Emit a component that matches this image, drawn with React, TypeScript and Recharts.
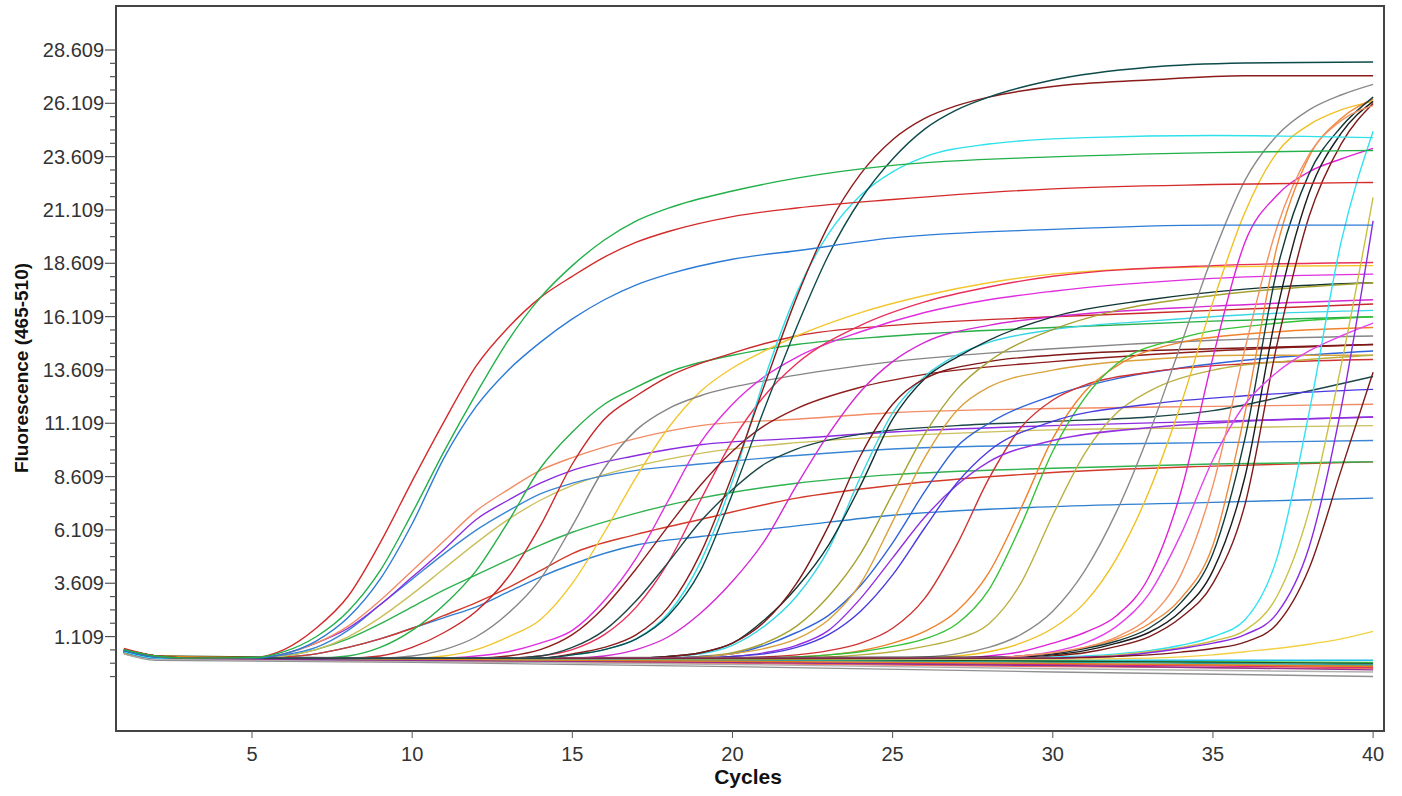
import { LineChart, Line, XAxis, YAxis, ReferenceArea } from "recharts";

type P = [number, number];

const cycleTicks = [5, 10, 15, 20, 25, 30, 35, 40];
const fluorTicks = [1.109, 3.609, 6.109, 8.609, 11.109, 13.609, 16.109, 18.609, 21.109, 23.609, 26.109, 28.609];

// early samples, high plateau
const s01: P[] = [[1,0.5],[2,0.2],[3,0.1],[5,0.12],[6,0.4],[7,1.1],[8,2.3],[9,4.2],[10,6.9],[11,9.8],[12,12.5],[13,15.0],[14,17.0],[15,18.5],[16,19.7],[17,20.6],[18,21.2],[20,22.0],[22,22.6],[25,23.2],[30,23.6],[35,23.8],[40,23.9]];
const s02: P[] = [[1,0.55],[2,0.2],[3,0.1],[5,0.12],[6,0.5],[7,1.5],[8,3.0],[9,5.5],[10,8.4],[11,11.2],[12,13.8],[13,15.6],[14,17.0],[15,18.0],[16,18.9],[17,19.6],[18,20.1],[20,20.8],[22,21.2],[25,21.6],[30,22.1],[35,22.3],[40,22.4]];
const s03: P[] = [[1,0.45],[2,0.15],[3,0.1],[5,0.1],[6,0.3],[7,0.9],[8,2.0],[9,3.8],[10,6.4],[11,9.5],[12,11.9],[13,13.6],[14,14.9],[15,16.0],[16,16.9],[17,17.6],[18,18.1],[20,18.8],[22,19.2],[25,19.8],[30,20.2],[35,20.4],[40,20.4]];
// early samples, low plateau
const s04: P[] = [[1,0.45],[2,0.15],[3,0.1],[5,0.1],[6,0.3],[7,0.8],[8,1.6],[9,2.8],[10,4.2],[11,5.6],[12,7.0],[13,8.0],[14,8.9],[15,9.5],[17,10.4],[19,11.0],[22,11.3],[25,11.6],[30,11.8],[35,11.9],[40,12.0]];
const s05: P[] = [[1,0.4],[2,0.15],[3,0.1],[5,0.1],[6,0.3],[7,0.8],[8,1.5],[9,2.6],[10,3.9],[11,5.2],[12,6.6],[13,7.5],[14,8.3],[15,8.9],[17,9.6],[19,10.1],[22,10.4],[25,10.7],[30,11.0],[35,11.2],[40,11.4]];
const s06: P[] = [[1,0.4],[2,0.1],[3,0.1],[5,0.1],[6,0.25],[7,0.6],[8,1.4],[9,2.6],[10,3.8],[11,5.0],[12,6.1],[13,7.0],[14,7.8],[15,8.3],[17,8.9],[19,9.2],[22,9.6],[25,9.9],[30,10.1],[35,10.2],[40,10.3]];
const s07: P[] = [[1,0.35],[2,0.1],[3,0.1],[5,0.1],[6,0.2],[7,0.5],[8,1.1],[9,2.0],[10,3.1],[11,4.3],[12,5.5],[13,6.6],[14,7.5],[15,8.2],[17,9.1],[19,9.7],[22,10.2],[25,10.5],[30,10.8],[35,10.9],[40,11.0]];
const s08: P[] = [[1,0.4],[2,0.15],[3,0.1],[5,0.1],[6,0.2],[7,0.5],[8,1.0],[9,1.7],[10,2.5],[11,3.3],[12,4.0],[13,4.7],[14,5.4],[15,6.0],[17,6.9],[19,7.6],[22,8.3],[25,8.7],[30,9.0],[35,9.2],[40,9.3]];
const s09: P[] = [[1,0.5],[2,0.2],[3,0.1],[5,0.1],[6,0.15],[7,0.3],[8,0.6],[9,1.0],[10,1.5],[11,2.1],[12,2.7],[13,3.4],[14,4.2],[15,5.0],[17,5.9],[19,6.6],[22,7.6],[25,8.2],[30,8.8],[35,9.1],[40,9.3]];
const s10: P[] = [[1,0.4],[2,0.1],[3,0.1],[5,0.1],[6,0.15],[7,0.3],[8,0.6],[9,1.0],[10,1.5],[11,2.0],[12,2.5],[13,3.2],[14,3.9],[15,4.5],[17,5.4],[19,5.8],[22,6.3],[25,6.8],[30,7.2],[35,7.4],[40,7.6]];
// mid samples
const s11: P[] = [[1,0.4],[2,0.15],[3,0.1],[7,0.1],[8,0.2],[9,0.6],[10,1.4],[11,2.6],[12,4.2],[13,6.5],[14,9.0],[15,10.7],[16,12.0],[17,12.8],[18,13.5],[20,14.3],[22,14.8],[25,15.2],[30,15.6],[35,15.9],[40,16.1]];
const s12: P[] = [[1,0.5],[2,0.2],[3,0.1],[8,0.1],[9,0.2],[10,0.6],[11,1.3],[12,2.3],[13,3.9],[14,6.3],[15,9.2],[16,11.3],[17,12.4],[18,13.3],[20,14.4],[22,15.2],[25,15.7],[30,16.1],[35,16.4],[40,16.7]];
const s13: P[] = [[1,0.4],[2,0.1],[3,0.1],[10,0.1],[11,0.2],[12,0.5],[13,1.1],[14,1.9],[15,3.6],[16,6.0],[17,8.6],[18,10.9],[19,12.6],[20,13.7],[21,14.5],[22,15.2],[24,16.3],[26,17.1],[28,17.7],[30,18.1],[35,18.45],[40,18.5]];
const s14: P[] = [[1,0.35],[2,0.1],[3,0.1],[9,0.1],[10,0.2],[11,0.5],[12,1.1],[13,2.2],[14,3.8],[15,6.3],[16,9.0],[17,10.8],[18,11.8],[19,12.4],[21,13.1],[23,13.6],[25,14.0],[30,14.6],[35,15.0],[40,15.2]];
const s15: P[] = [[1,0.4],[2,0.15],[3,0.1],[11,0.1],[12,0.2],[13,0.4],[14,0.8],[15,1.4],[16,2.8],[17,4.8],[18,7.5],[19,10.2],[20,12.0],[21,13.3],[22,14.2],[24,15.4],[26,16.3],[28,16.9],[30,17.3],[35,17.9],[40,18.1]];
const s16: P[] = [[1,0.45],[2,0.15],[3,0.1],[13,0.1],[14,0.2],[15,0.5],[16,1.2],[17,2.5],[18,4.6],[19,7.5],[20,10.3],[21,12.4],[22,13.9],[24,15.7],[26,16.8],[28,17.5],[30,18.0],[35,18.5],[40,18.65]];
const s17: P[] = [[1,0.5],[2,0.2],[3,0.1],[12,0.1],[13,0.2],[14,0.5],[15,1.2],[16,2.5],[17,4.3],[18,6.3],[19,8.2],[20,9.8],[21,11.0],[22,11.8],[24,12.8],[26,13.4],[30,14.0],[35,14.5],[40,14.8]];
const s18: P[] = [[1,0.4],[2,0.1],[3,0.1],[13,0.1],[14,0.2],[15,0.6],[16,1.4],[17,2.8],[18,4.6],[19,6.5],[20,8.0],[21,9.2],[22,9.9],[24,10.6],[27,11.0],[30,11.2],[33,11.4],[35,11.7],[37,12.3],[40,13.3]];
// steep, highest plateau
const s19: P[] = [[1,0.45],[2,0.15],[3,0.1],[14,0.1],[15,0.25],[16,0.5],[17,1.0],[18,2.1],[19,4.2],[20,7.8],[21,11.8],[22,15.6],[23,19.0],[24,21.6],[25,23.5],[26,24.9],[27,25.8],[28,26.4],[30,27.2],[33,27.8],[36,28.0],[40,28.05]];
const s20: P[] = [[1,0.5],[2,0.2],[3,0.1],[14,0.1],[15,0.3],[16,0.6],[17,1.2],[18,2.5],[19,5.0],[20,8.7],[21,12.9],[22,17.0],[23,20.4],[24,22.8],[25,24.4],[26,25.4],[27,26.0],[28,26.4],[30,26.9],[33,27.2],[36,27.4],[40,27.4]];
const s21: P[] = [[1,0.4],[2,0.1],[3,0.1],[14,0.1],[15,0.25],[16,0.5],[17,1.0],[18,2.2],[19,4.6],[20,8.4],[21,13.2],[22,17.2],[23,20.0],[24,21.8],[25,22.9],[26,23.6],[28,24.2],[31,24.5],[35,24.6],[40,24.5]];
// cycle 21-24 group
const s22: P[] = [[1,0.45],[2,0.15],[3,0.1],[17,0.1],[18,0.18],[19,0.3],[20,0.7],[21,1.6],[22,3.0],[23,5.2],[24,8.6],[25,11.6],[26,13.3],[27,14.3],[28,14.9],[30,15.5],[33,15.9],[36,16.2],[40,16.4]];
const s23: P[] = [[1,0.4],[2,0.1],[3,0.1],[15,0.1],[16,0.2],[17,0.5],[18,1.1],[19,2.2],[20,3.7],[21,5.6],[22,8.2],[23,10.6],[24,12.6],[25,14.0],[26,14.9],[28,15.7],[30,16.1],[35,16.6],[40,16.9]];
const s24: P[] = [[1,0.5],[2,0.2],[3,0.1],[17,0.1],[18,0.18],[19,0.35],[20,0.8],[21,1.9],[22,3.4],[23,5.4],[24,8.2],[25,11.3],[26,13.2],[27,14.2],[28,15.0],[30,16.1],[33,16.9],[36,17.4],[40,17.7]];
const s25: P[] = [[1,0.45],[2,0.15],[3,0.1],[17,0.1],[18,0.18],[19,0.35],[20,0.8],[21,1.8],[22,3.6],[23,6.3],[24,9.6],[25,12.0],[26,13.2],[28,14.0],[30,14.3],[35,14.6],[40,14.8]];
const s26: P[] = [[1,0.4],[2,0.1],[3,0.1],[18,0.1],[19,0.18],[20,0.35],[21,0.8],[22,1.6],[23,3.0],[24,5.0],[25,7.8],[26,10.6],[27,12.7],[28,14.0],[30,15.5],[32,16.4],[35,17.1],[40,17.7]];
const s27: P[] = [[1,0.45],[2,0.15],[3,0.1],[18,0.1],[19,0.18],[20,0.3],[21,0.7],[22,1.3],[23,2.1],[24,3.5],[25,5.5],[26,7.9],[27,10.0],[28,11.1],[30,12.4],[32,13.2],[35,13.9],[40,14.5]];
// cycle 24-29 group
const s28: P[] = [[1,0.5],[2,0.2],[3,0.1],[18,0.1],[19,0.15],[20,0.3],[21,0.55],[22,1.0],[23,1.9],[24,3.6],[25,6.5],[26,9.5],[27,11.7],[28,12.8],[30,13.6],[33,14.1],[36,14.3],[40,14.3]];
const s29: P[] = [[1,0.4],[2,0.1],[3,0.1],[20,0.1],[21,0.15],[22,0.25],[23,0.45],[24,0.8],[25,1.5],[26,2.9],[27,5.4],[28,8.5],[29,10.9],[30,12.2],[31,12.9],[33,13.5],[36,13.9],[40,14.1]];
const s30: P[] = [[1,0.45],[2,0.15],[3,0.1],[21,0.1],[22,0.15],[23,0.25],[24,0.45],[25,0.8],[26,1.35],[27,2.3],[28,4.1],[29,7.1],[30,10.4],[31,12.6],[32,13.8],[34,14.9],[37,15.4],[40,15.6]];
const s31: P[] = [[1,0.4],[2,0.1],[3,0.1],[21,0.1],[22,0.15],[23,0.25],[24,0.4],[25,0.65],[26,1.0],[27,1.7],[28,3.3],[29,6.3],[30,9.8],[31,12.3],[32,13.9],[34,15.1],[37,15.8],[40,16.1]];
const s32: P[] = [[1,0.35],[2,0.1],[3,0.1],[22,0.1],[23,0.15],[24,0.25],[25,0.4],[26,0.65],[27,1.0],[28,1.7],[29,3.6],[30,6.8],[31,9.7],[32,11.6],[33,12.6],[35,13.6],[38,14.1],[40,14.3]];
const s33: P[] = [[1,0.45],[2,0.15],[3,0.1],[19,0.1],[20,0.18],[21,0.35],[22,0.7],[23,1.4],[24,2.9],[25,4.8],[26,6.7],[27,8.2],[28,9.3],[30,10.3],[33,10.9],[36,11.2],[40,11.4]];
const s34: P[] = [[1,0.4],[2,0.1],[3,0.1],[19,0.1],[20,0.18],[21,0.3],[22,0.6],[23,1.2],[24,2.3],[25,4.0],[26,6.2],[27,8.3],[28,9.8],[30,11.2],[33,12.0],[36,12.4],[40,12.7]];
// late samples
const s35: P[] = [[1,0.4],[2,0.1],[3,0.1],[25,0.1],[26,0.15],[27,0.3],[28,0.6],[29,1.2],[30,2.3],[31,4.2],[32,7.0],[33,10.6],[34,14.8],[35,19.0],[36,22.5],[37,24.6],[38,25.8],[39,26.5],[40,27.0]];
const s36: P[] = [[1,0.45],[2,0.15],[3,0.1],[26,0.1],[27,0.2],[28,0.4],[29,0.8],[30,1.5],[31,2.7],[32,4.8],[33,7.9],[34,12.0],[35,16.8],[36,21.0],[37,23.8],[38,25.1],[39,25.8],[40,26.2]];
const s37: P[] = [[1,0.4],[2,0.1],[3,0.1],[27,0.1],[28,0.2],[29,0.4],[30,0.8],[31,1.3],[32,2.1],[33,3.9],[34,7.9],[35,14.2],[36,19.6],[37,21.8],[38,22.9],[39,23.5],[40,24.0]];
const s38: P[] = [[1,0.5],[2,0.2],[3,0.1],[28,0.1],[29,0.2],[30,0.35],[31,0.6],[32,1.0],[33,1.7],[34,2.9],[35,5.4],[36,11.6],[37,19.4],[38,23.6],[39,25.4],[40,26.3]];
const s39: P[] = [[1,0.45],[2,0.15],[3,0.1],[28,0.1],[29,0.2],[30,0.3],[31,0.55],[32,0.9],[33,1.5],[34,2.7],[35,5.0],[36,10.4],[37,18.3],[38,22.8],[39,25.0],[40,26.4]];
const s40: P[] = [[1,0.4],[2,0.1],[3,0.1],[29,0.15],[30,0.25],[31,0.45],[32,0.8],[33,1.3],[34,2.3],[35,4.2],[36,8.6],[37,16.4],[38,21.9],[39,24.7],[40,26.2]];
const s41: P[] = [[1,0.45],[2,0.15],[3,0.1],[29,0.1],[30,0.2],[31,0.35],[32,0.65],[33,1.1],[34,2.0],[35,3.6],[36,7.3],[37,14.8],[38,20.8],[39,24.2],[40,26.1]];
const s42: P[] = [[1,0.4],[2,0.1],[3,0.1],[28,0.1],[29,0.2],[30,0.4],[31,0.8],[32,1.6],[33,3.1],[34,5.9],[35,9.4],[36,12.0],[37,13.5],[38,14.5],[39,15.2],[40,15.8]];
const s43: P[] = [[1,0.45],[2,0.15],[3,0.1],[28,0.1],[29,0.2],[30,0.35],[31,0.6],[32,1.1],[33,2.0],[34,4.0],[35,8.2],[36,14.6],[37,20.3],[38,23.7],[39,25.3],[40,26.0]];
const s44: P[] = [[1,0.4],[2,0.1],[3,0.1],[29,0.1],[30,0.15],[31,0.2],[32,0.3],[33,0.45],[34,0.7],[35,1.1],[36,1.9],[37,4.8],[38,11.6],[39,19.6],[40,24.8]];
const s45: P[] = [[1,0.45],[2,0.15],[3,0.1],[30,0.1],[31,0.15],[32,0.25],[33,0.4],[34,0.6],[35,0.9],[36,1.4],[37,3.0],[38,7.0],[39,13.8],[40,21.7]];
const s46: P[] = [[1,0.4],[2,0.1],[3,0.1],[30,0.1],[31,0.15],[32,0.2],[33,0.35],[34,0.55],[35,0.8],[36,1.2],[37,2.2],[38,5.3],[39,11.8],[40,20.6]];
const s47: P[] = [[1,0.5],[2,0.2],[3,0.1],[30,0.1],[31,0.12],[32,0.18],[33,0.25],[34,0.38],[35,0.55],[36,0.85],[37,1.7],[38,4.3],[39,8.9],[40,13.5]];
const s48: P[] = [[1,0.4],[2,0.1],[3,0.1],[30,0.05],[33,0.1],[35,0.25],[36,0.4],[37,0.55],[38,0.75],[39,1.0],[40,1.35]];
// negatives
const n01: P[] = [[1,0.4],[2,0.15],[3,0.1],[10,0.1],[20,0.05],[30,0.0],[40,0.0]];
const n02: P[] = [[1,0.3],[2,0.1],[10,0.05],[20,0.0],[30,-0.05],[40,-0.1]];
const n03: P[] = [[1,0.5],[2,0.2],[10,0.0],[20,-0.1],[30,-0.2],[40,-0.25]];
const n04: P[] = [[1,0.35],[2,0.1],[10,-0.05],[20,-0.1],[30,-0.2],[40,-0.35]];
const n05: P[] = [[1,0.4],[2,0.1],[10,-0.05],[20,-0.15],[30,-0.3],[40,-0.4]];
const n06: P[] = [[1,0.3],[2,0.0],[10,-0.1],[20,-0.3],[30,-0.55],[40,-0.76]];
const n07: P[] = [[1,0.3],[2,0.05],[10,-0.05],[20,-0.2],[30,-0.4],[40,-0.55]];
const n08: P[] = [[1,0.45],[2,0.2],[10,0.1],[20,0.05],[30,-0.05],[40,-0.15]];
const n09: P[] = [[1,0.35],[2,0.1],[10,0.0],[20,-0.1],[30,-0.25],[40,-0.45]];
const n10: P[] = [[1,0.4],[2,0.15],[10,0.05],[20,0.0],[30,-0.1],[40,-0.2]];
const n11: P[] = [[1,0.45],[2,0.2],[10,0.05],[20,-0.05],[30,-0.15],[40,-0.3]];

const series: { id: string; color: string; pts: P[] }[] = [
  { id: "n01", color: "#22c0f0", pts: n01 },
  { id: "n02", color: "#44d044", pts: n02 },
  { id: "n03", color: "#b09040", pts: n03 },
  { id: "n04", color: "#e02080", pts: n04 },
  { id: "n05", color: "#f07060", pts: n05 },
  { id: "n06", color: "#909090", pts: n06 },
  { id: "n07", color: "#b0b0b0", pts: n07 },
  { id: "n08", color: "#205020", pts: n08 },
  { id: "n09", color: "#903090", pts: n09 },
  { id: "n10", color: "#30a0a0", pts: n10 },
  { id: "n11", color: "#e08020", pts: n11 },
  { id: "s48", color: "#f2d042", pts: s48 },
  { id: "s10", color: "#2f7fd0", pts: s10 },
  { id: "s09", color: "#d23a2a", pts: s09 },
  { id: "s08", color: "#2fb24f", pts: s08 },
  { id: "s07", color: "#cbbf5a", pts: s07 },
  { id: "s06", color: "#3a86d4", pts: s06 },
  { id: "s05", color: "#8b2be0", pts: s05 },
  { id: "s04", color: "#f28c64", pts: s04 },
  { id: "s11", color: "#27ae47", pts: s11 },
  { id: "s12", color: "#c9282a", pts: s12 },
  { id: "s13", color: "#f2c62e", pts: s13 },
  { id: "s14", color: "#858585", pts: s14 },
  { id: "s15", color: "#e02fe0", pts: s15 },
  { id: "s16", color: "#e8305a", pts: s16 },
  { id: "s17", color: "#8e1d1d", pts: s17 },
  { id: "s18", color: "#1d4646", pts: s18 },
  { id: "s22", color: "#3bd6e6", pts: s22 },
  { id: "s23", color: "#d42ad4", pts: s23 },
  { id: "s24", color: "#103434", pts: s24 },
  { id: "s25", color: "#7e1717", pts: s25 },
  { id: "s26", color: "#a6a232", pts: s26 },
  { id: "s27", color: "#3064d8", pts: s27 },
  { id: "s28", color: "#d9a23c", pts: s28 },
  { id: "s29", color: "#d03232", pts: s29 },
  { id: "s30", color: "#f0822e", pts: s30 },
  { id: "s31", color: "#36c236", pts: s31 },
  { id: "s32", color: "#bab040", pts: s32 },
  { id: "s33", color: "#9330e0", pts: s33 },
  { id: "s34", color: "#4a3ae0", pts: s34 },
  { id: "s35", color: "#8a8a8a", pts: s35 },
  { id: "s36", color: "#f0c022", pts: s36 },
  { id: "s37", color: "#e022d6", pts: s37 },
  { id: "s38", color: "#f08a3a", pts: s38 },
  { id: "s39", color: "#123a3a", pts: s39 },
  { id: "s40", color: "#1c1c1c", pts: s40 },
  { id: "s41", color: "#7f1a1a", pts: s41 },
  { id: "s42", color: "#e244ea", pts: s42 },
  { id: "s43", color: "#f29264", pts: s43 },
  { id: "s44", color: "#32e2f2", pts: s44 },
  { id: "s45", color: "#c9c042", pts: s45 },
  { id: "s46", color: "#8a2ae2", pts: s46 },
  { id: "s47", color: "#7a1a1a", pts: s47 },
  { id: "s21", color: "#2ee0ea", pts: s21 },
  { id: "s20", color: "#8c1c1c", pts: s20 },
  { id: "s19", color: "#0e4a4a", pts: s19 },
  { id: "s03", color: "#2c7bd6", pts: s03 },
  { id: "s02", color: "#d42a2a", pts: s02 },
  { id: "s01", color: "#22b04a", pts: s01 },
];

const X_MIN = 0.754;
const X_MAX = 40.34;
const Y_MIN = -3.318;
const Y_MAX = 30.672;

// minor ticks between the labelled ones
const minorTicks = fluorTicks.flatMap((m) => [m - 0.625, m - 1.25, m - 1.875]);
const allYTicks = [...fluorTicks, ...minorTicks].sort((a, b) => a - b);

const font = "'Liberation Sans', Arial, sans-serif";

const YTick = (props: any) => {
  const { x, y, payload } = props;
  const major = fluorTicks.includes(payload.value);
  return (
    <g>
      <line x1={x - (major ? 11 : 6)} x2={x} y1={y} y2={y} stroke="#555" strokeWidth={1.2} />
      {major && (
        <text x={x - 12} y={y + 7} textAnchor="end" fontSize={20} fill="#333" fontFamily={font}>
          {payload.value.toFixed(3)}
        </text>
      )}
    </g>
  );
};

export default function App() {
  return (
    <div style={{ position: "absolute", left: 0, top: 0, width: 1402, height: 796, background: "#fff" }}>
      <LineChart width={1402} height={796} margin={{ top: 6, right: 18, bottom: 25, left: 0 }}>
        <XAxis
          type="number"
          dataKey="c"
          domain={[X_MIN, X_MAX]}
          ticks={cycleTicks}
          allowDataOverflow
          interval={0}
          height={40}
          tickSize={7}
          tickMargin={9}
          axisLine={{ stroke: "#444", strokeWidth: 2 }}
          tickLine={{ stroke: "#555" }}
          tick={{ fontSize: 20, fill: "#333", fontFamily: font }}
        />
        <YAxis
          type="number"
          domain={[Y_MIN, Y_MAX]}
          ticks={allYTicks}
          allowDataOverflow
          interval={0}
          width={116}
          tickSize={0}
          tickMargin={0}
          tickLine={false}
          axisLine={{ stroke: "#444", strokeWidth: 2 }}
          tick={<YTick />}
        />
        <ReferenceArea x1={X_MIN} x2={X_MAX} y1={Y_MIN} y2={Y_MAX} fill="none" stroke="#444" strokeWidth={2} />
        {series.map((s) => (
          <Line
            key={s.id}
            data={s.pts.map(([c, v]) => ({ c, v }))}
            dataKey="v"
            type="monotone"
            stroke={s.color}
            strokeWidth={1.4}
            dot={false}
            isAnimationActive={false}
          />
        ))}
      </LineChart>
      <div
        style={{
          position: "absolute",
          left: 22 - 150,
          top: 368 - 10,
          width: 300,
          height: 20,
          lineHeight: "20px",
          textAlign: "center",
          transform: "rotate(-90deg)",
          fontFamily: font,
          fontWeight: "bold",
          fontSize: 19,
          color: "#111",
        }}
      >
        Fluorescence (465-510)
      </div>
      <div
        style={{
          position: "absolute",
          left: 748 - 60,
          top: 766,
          width: 120,
          lineHeight: "21px",
          textAlign: "center",
          fontFamily: font,
          fontWeight: "bold",
          fontSize: 21,
          color: "#111",
        }}
      >
        Cycles
      </div>
    </div>
  );
}
